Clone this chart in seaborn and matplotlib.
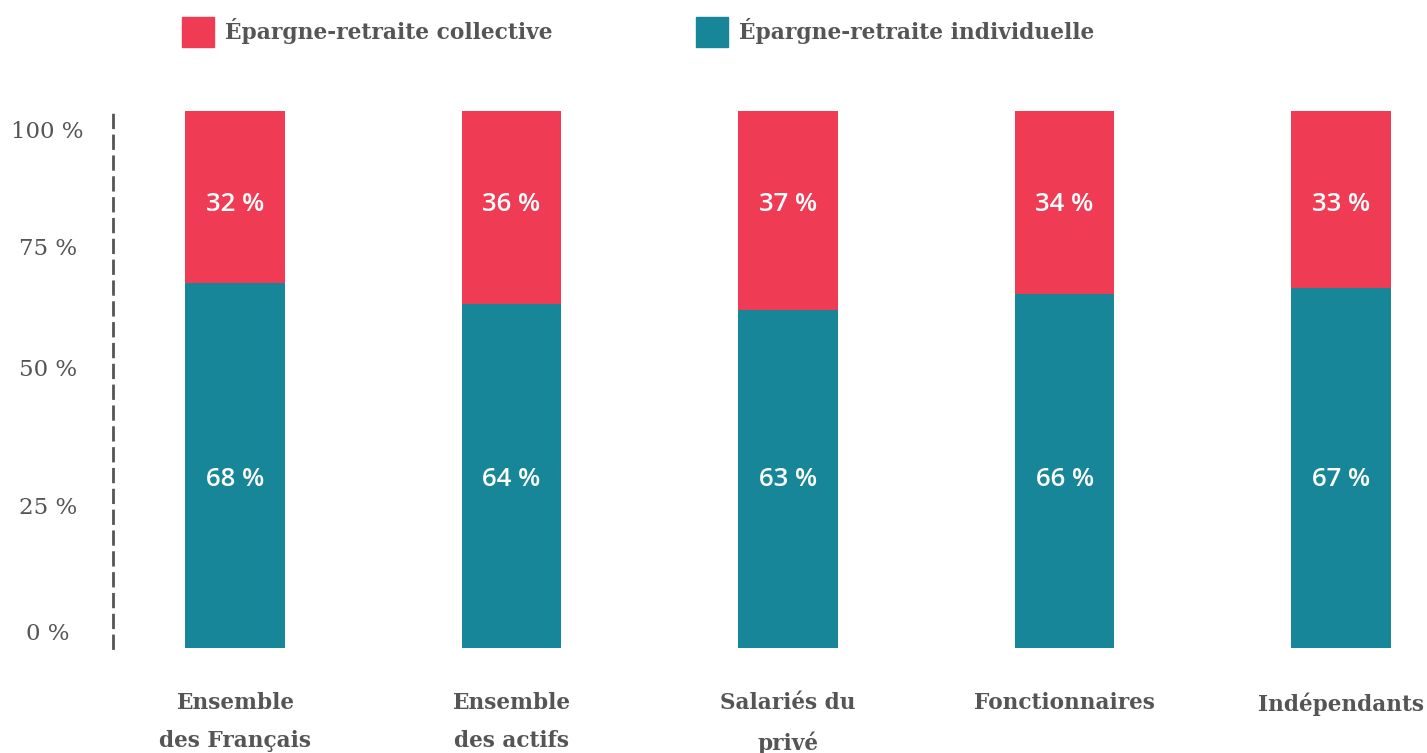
import numpy as np
import pandas as pd
import matplotlib
matplotlib.use("Agg")
import matplotlib.pyplot as plt
import matplotlib.patches as mpatches
import seaborn as sns

# data
categories = ["Ensemble\ndes Français", "Ensemble\ndes actifs", "Salariés du\nprivé",
              "Fonctionnaires", "Indépendants"]
collective = [32, 36, 37, 34, 33]
individuelle = [68, 64, 63, 66, 67]
ytick_labels = ["0 %", "25 %", "50 %", "75 %", "100 %"]

red = "#EF3B53"
teal = "#188699"
grey = "#555555"
serif = "DejaVu Serif"

df = pd.DataFrame({"cat": categories, "collective": collective, "individuelle": individuelle})
df["total"] = df["collective"] + df["individuelle"]

sns.set_style("white")
fig = plt.figure(figsize=(14.27, 7.53), dpi=100)
ax = fig.add_axes([113 / 1427, 1 - 648 / 753, 1 - 113 / 1427, (648 - 111) / 753])

sns.barplot(data=df, x="cat", y="total", color=red, width=0.36, saturation=1,
            linewidth=0, ax=ax)
sns.barplot(data=df, x="cat", y="individuelle", color=teal, width=0.36, saturation=1,
            linewidth=0, ax=ax)

for i in range(len(categories)):
    ax.text(i, 82.5, f"{collective[i]} %", ha="center", va="center", color="white",
            fontsize=18.5, family="Open Sans", fontweight="semibold")
    ax.text(i, 31.3, f"{individuelle[i]} %", ha="center", va="center", color="white",
            fontsize=18.5, family="Open Sans", fontweight="semibold")

ax.set_xlim(-0.44, 4.31)
ax.set_ylim(0, 100)
ax.set_xlabel("")
ax.set_ylabel("")

# tick labels sit slightly inside the bar range in the original
ax.set_yticks([3, 26.6, 52.3, 74.8, 96.5])
ax.set_yticklabels(ytick_labels, fontsize=16.5, family=serif, color=grey)
for lab in ax.get_yticklabels():
    lab.set_horizontalalignment("center")
ax.tick_params(axis="y", length=0, pad=47)

ax.set_xticks(range(len(categories)))
ax.set_xticklabels(categories, fontsize=15.6, family=serif, fontweight="bold", color=grey,
                   linespacing=1.9)
ax.tick_params(axis="x", length=0, pad=32)

for s in ["top", "right", "bottom"]:
    ax.spines[s].set_visible(False)
ax.spines["left"].set_color(grey)
ax.spines["left"].set_linewidth(2)
ax.spines["left"].set_linestyle((0, (4.5, 3)))

handles = [mpatches.Patch(color=red, label="Épargne-retraite collective"),
           mpatches.Patch(color=teal, label="Épargne-retraite individuelle")]
leg = fig.legend(handles=handles, loc="center left", bbox_to_anchor=(182 / 1427, 1 - 32 / 753),
                 ncol=2, frameon=False, handlelength=1.47, handleheight=1.81, handletextpad=0.5,
                 columnspacing=6.6, borderpad=0, borderaxespad=0,
                 prop={"family": serif, "weight": "bold", "size": 15.7})
for t in leg.get_texts():
    t.set_color(grey)

fig.savefig("out.png", dpi=100)
